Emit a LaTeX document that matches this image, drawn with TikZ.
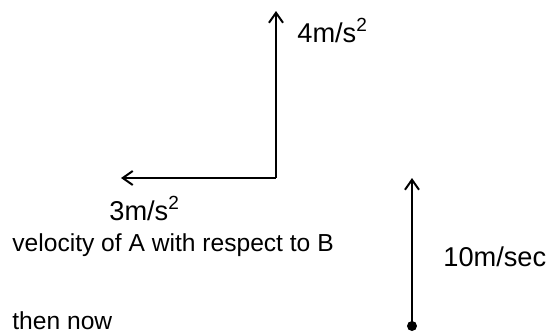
\documentclass[tikz,border=0pt]{standalone}
\usepackage{fontspec}
\setmainfont{Liberation Sans}
\usetikzlibrary{arrows.meta}
\tikzset{lbl/.style={inner sep=0pt,anchor=base west,font=\fontsize{12.3}{14}\selectfont},
        unit/.style={lbl,font=\fontsize{13.6}{16}\selectfont}}
\begin{document}
\begin{tikzpicture}[x=0.5pt,y=-0.5pt,>={Straight Barb[length=5pt,width=7pt]}]
        \useasboundingbox (0,0) rectangle (554,334);
        % acceleration of B
        \coordinate (corner) at (276,178);
        \coordinate (up) at (276,11);
        \coordinate (left) at (121,178);
        \draw[->,line width=1pt] (corner) -- (up);
        \draw[->,line width=1pt] (corner) -- (left);
        \node[unit] (ay) at (297,42) {4m/s\textsuperscript{2}};
        \node[unit] (ax) at (109,220) {3m/s\textsuperscript{2}};
        \node[lbl] (rel) at (12,251) {velocity of A with respect to B};
        % velocity of A
        \coordinate (base) at (412,326);
        \coordinate (tip) at (412,178);
        \fill (base) circle (5);
        \draw[->,line width=1pt] (base) -- (tip);
        \node[unit] (vel) at (443,266) {10m/sec};
        \node[lbl] (then) at (12,329) {then now};
\end{tikzpicture}
\end{document}
